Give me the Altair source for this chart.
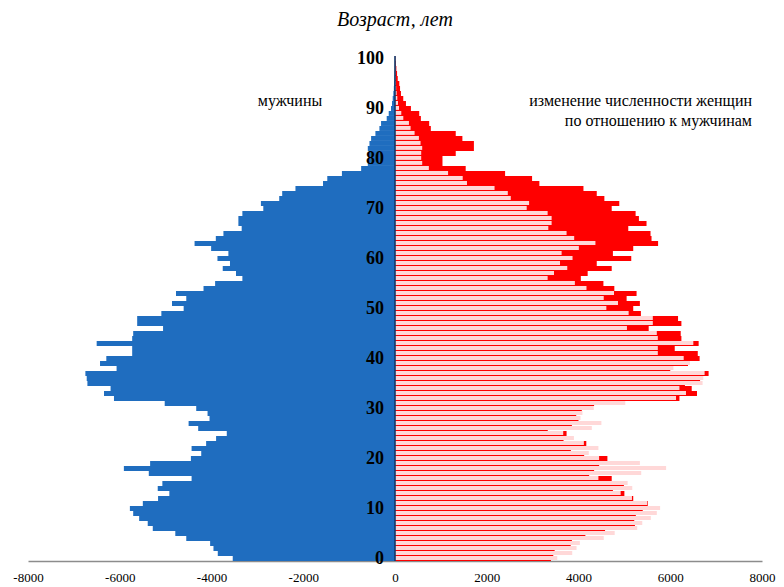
import altair as alt
import pandas as pd

ages = list(range(101))

male = [3537, 3863, 3957, 4030, 4550, 4789, 5280, 5390, 5577, 5707,
        5779, 5497, 5165, 4919, 5172, 5071, 4434, 5367, 5910, 5338,
        4449, 4224, 4434, 4117, 3900, 3667, 4290, 4499, 4043, 4086,
        4333, 5020, 6126, 6343, 6200, 6705, 6720, 6749, 6069, 6430,
        6293, 5729, 5729, 6503, 5729, 5707, 5056, 5620, 5620, 5093,
        4607, 4861, 4550, 4774, 4174, 3921, 3327, 3466, 3755, 3597,
        3870, 3632, 4008, 4369, 3906, 3740, 3342, 3414, 3414, 3327,
        2871, 2923, 2524, 2459, 2170, 1569, 1476, 1157, 738, 593,
        571, 571, 593, 557, 521, 427, 340, 304, 181, 137,
        87, 65, 50, 36, 25, 18, 12, 8, 5, 3,
        2]

female = [3400, 3450, 3480, 3830, 3856, 4150, 4579, 5230, 5215, 5250,
          5400, 5510, 5193, 5000, 4750, 4990, 4724, 4232, 4340, 4450,
          4630, 4123, 3834, 4170, 3674, 3740, 3330, 3856, 4000, 3950,
          4072, 4340, 6200, 6583, 6468, 6320, 6650, 6836, 6000, 6387,
          6640, 6600, 6098, 6619, 6243, 6228, 5530, 6243, 6170, 5360,
          5193, 5338, 5049, 5266, 4781, 4543, 4051, 4200, 4724, 4398,
          5150, 4750, 5193, 5735, 5592, 5570, 5085, 5483, 5317, 5245,
          4724, 4889, 4564, 4398, 4108, 3147, 2988, 2400, 1541, 1035,
          1035, 1324, 1720, 1720, 1469, 1324, 781, 745, 564, 528,
          347, 239, 180, 130, 110, 94, 60, 45, 30, 20,
          10]

x_ticks = [-8000, -6000, -4000, -2000, 0, 2000, 4000, 6000, 8000]
age_ticks = [0, 10, 20, 30, 40, 50, 60, 70, 80, 90, 100]

title_text = "Возраст, лет"
men_label = "мужчины"
women_label_1 = "изменение численности женщин"
women_label_2 = "по отношению к мужчинам"

df = pd.DataFrame({"age": ages, "male": male, "female": female})

SERIF = "Liberation Serif"
xscale = alt.Scale(domain=[-8000, 8000], nice=False, zero=False)
yscale = alt.Scale(domain=[-0.5, 100.5], nice=False, zero=False)

base = alt.Chart(df).transform_calculate(
    neg="-datum.male", zero="0",
    yb="datum.age - 0.5", yt="datum.age + 0.5",
    ybl="datum.age - 0.49", ypk="datum.age - 0.28",
)

blue = base.mark_rect(color="#1f6dbf").encode(
    x=alt.X("neg:Q", scale=xscale,
            axis=alt.Axis(values=x_ticks, grid=False, ticks=False, title=None,
                          domainColor="#8c8c8c", domainWidth=1.5,
                          labelFont=SERIF, labelFontSize=13, labelColor="black",
                          labelPadding=10, labelFlush=False, labelOverlap=False,
                          labelExpr="'' + datum.value")),
    x2="zero:Q",
    y=alt.Y("ybl:Q", scale=yscale, axis=None),
    y2="yt:Q",
)

red = base.mark_rect(color="#ff0000").encode(
    x=alt.X("zero:Q", scale=xscale),
    x2="female:Q",
    y=alt.Y("yb:Q", scale=yscale, axis=None),
    y2="yt:Q",
)

pink = base.mark_rect(color="#ffd8d8").encode(
    x=alt.X("zero:Q", scale=xscale),
    x2="male:Q",
    y=alt.Y("ypk:Q", scale=yscale, axis=None),
    y2="yt:Q",
)

zero_line = alt.Chart(pd.DataFrame({"v": [0]})).transform_calculate(
    lo="-0.5", hi="100.5"
).mark_rule(color="#123a6b", strokeWidth=1.6).encode(
    x=alt.X("v:Q", scale=xscale),
    y=alt.Y("lo:Q", scale=yscale, axis=None),
    y2="hi:Q",
)

age_df = pd.DataFrame({"age": age_ticks})
age_text = alt.Chart(age_df).mark_text(
    align="right", baseline="middle", font=SERIF, fontWeight="bold",
    fontSize=18, color="black"
).encode(
    x=alt.value(356),
    y=alt.Y("age:Q", scale=yscale, axis=None),
    text=alt.Text("age:Q"),
)

men_text = alt.Chart(pd.DataFrame({"t": [men_label]})).mark_text(
    align="center", baseline="middle", font=SERIF, fontSize=16, color="black"
).encode(x=alt.value(262), y=alt.value(45), text="t:N")

women_text_1 = alt.Chart(pd.DataFrame({"t": [women_label_1]})).mark_text(
    align="right", baseline="middle", font=SERIF, fontSize=16, color="black"
).encode(x=alt.value(724), y=alt.value(45), text="t:N")

women_text_2 = alt.Chart(pd.DataFrame({"t": [women_label_2]})).mark_text(
    align="right", baseline="middle", font=SERIF, fontSize=16, color="black"
).encode(x=alt.value(724), y=alt.value(65), text="t:N")

chart = alt.layer(
    red, pink, blue, zero_line, age_text, men_text, women_text_1, women_text_2
).properties(
    width=734,
    height=505,
    padding={"left": 20, "top": 48, "right": 14, "bottom": 26},
    autosize=alt.AutoSizeParams(type="none"),
    background="white",
    title=alt.Title(title_text, font=SERIF, fontSize=20, fontStyle="italic",
                    fontWeight="normal", color="black", anchor="middle", offset=20),
).configure_view(strokeWidth=0, stroke="transparent")

chart.save("out.html", embed_options={"renderer": "svg", "actions": False})
